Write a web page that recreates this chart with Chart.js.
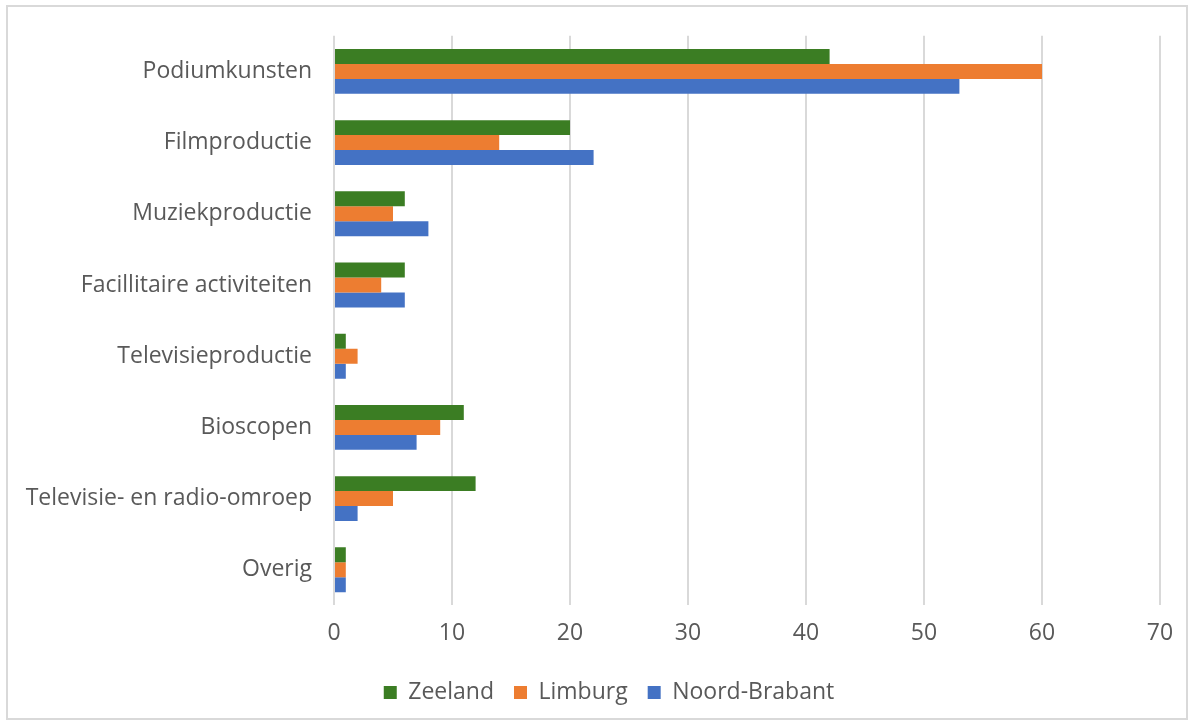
<!DOCTYPE html>
<html>
<head>
<meta charset="utf-8">
<script src="https://cdn.jsdelivr.net/npm/chart.js@4.4.0/dist/chart.umd.min.js"></script>
<style>
  html, body { margin: 0; padding: 0; background: #ffffff; }
  #wrap { position: absolute; left: 0; top: 0; width: 1194px; height: 725px; }
  #frame {
    position: absolute; left: 6px; top: 5px; width: 1182px; height: 715px;
    box-sizing: border-box; border: 2px solid #d9d9d9;
  }
  #chart { position: absolute; left: 0; top: 0; }
</style>
</head>
<body>
<div id="wrap">
  <div id="frame"></div>
  <canvas id="chart" width="1194" height="725"></canvas>
</div>
<script>
// Sectors (top to bottom)
const categories = [
  'Podiumkunsten',
  'Filmproductie',
  'Muziekproductie',
  'Facillitaire activiteiten',
  'Televisieproductie',
  'Bioscopen',
  'Televisie- en radio-omroep',
  'Overig'
];

const zeeland      = [42, 20, 6, 6, 1, 11, 12, 1];
const limburg      = [60, 14, 5, 4, 2, 9, 5, 1];
const noordBrabant = [53, 22, 8, 6, 1, 7, 2, 1];

const xMin = 0;
const xMax = 70;
const xStep = 10;

const labelFont = { family: "'Open Sans', 'Noto Sans', sans-serif", size: 23 };

// nudge the legend to the right, it is centred under the plot in the original
const legendShift = {
  id: 'legendShift',
  afterLayout(chart) {
    if (chart.legend) chart.legend.left += 58;
  }
};

new Chart(document.getElementById('chart'), {
  type: 'bar',
  data: {
    labels: categories,
    datasets: [
      { label: 'Zeeland', data: zeeland, backgroundColor: '#3b7d23' },
      { label: 'Limburg', data: limburg, backgroundColor: '#ed7d31' },
      { label: 'Noord-Brabant', data: noordBrabant, backgroundColor: '#4472c4' }
    ]
  },
  plugins: [legendShift],
  options: {
    indexAxis: 'y',
    responsive: false,
    animation: false,
    categoryPercentage: 0.63,
    barPercentage: 1.0,
    layout: { padding: { left: 0, right: 34, top: 35, bottom: 11 } },
    plugins: {
      legend: {
        position: 'bottom',
        labels: {
          color: '#595959',
          font: labelFont,
          boxWidth: 13,
          boxHeight: 13,
          padding: 20
        }
      },
      tooltip: { enabled: false }
    },
    scales: {
      x: {
        min: xMin,
        max: xMax,
        ticks: { stepSize: xStep, color: '#595959', font: labelFont, padding: 14 },
        grid: { color: '#d9d9d9', lineWidth: 2, drawTicks: false },
        border: { display: false }
      },
      y: {
        ticks: { color: '#595959', font: labelFont, padding: 22 },
        grid: { display: false, drawTicks: false },
        border: { display: false },
        afterFit: function (scale) { scale.width = 334; }
      }
    }
  }
});
</script>
</body>
</html>
